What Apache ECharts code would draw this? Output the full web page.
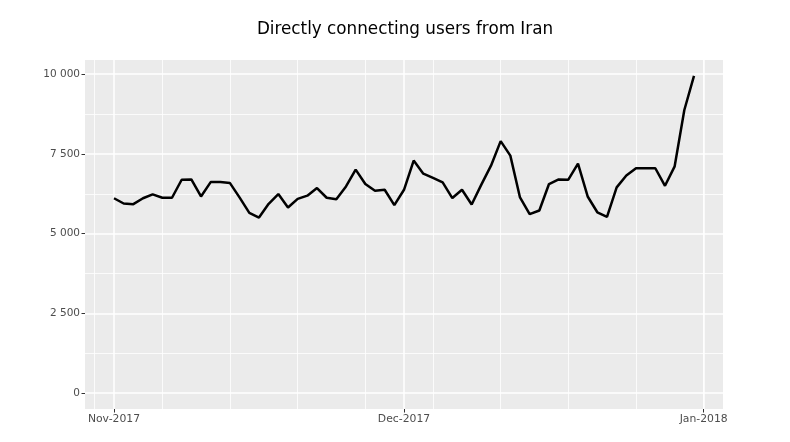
<!DOCTYPE html>
<html>
<head>
<meta charset="utf-8">
<script src="https://cdn.jsdelivr.net/npm/echarts@6/dist/echarts.min.js"></script>
<style>
  html, body { margin: 0; padding: 0; background: #fff; }
  #chart { width: 790px; height: 442px; }
</style>
</head>
<body>
<div id="chart"></div>
<script>
const TITLE = "Directly connecting users from Iran";
// x values are days counted from Nov 1 2017, one point per day
const START_DATE = [2017, 10, 1];
const USERS = [
  6110, 5945, 5925, 6110, 6230, 6125, 6125, 6690, 6700, 6165,
  6615, 6615, 6585, 6130, 5650, 5505, 5935, 6240, 5820, 6090,
  6190, 6430, 6125, 6080, 6480, 7005, 6555, 6345, 6375, 5895,
  6375, 7290, 6880, 6745, 6605, 6115, 6375, 5915, 6535, 7130,
  7900, 7445, 6135, 5610, 5725, 6555, 6700, 6690, 7195, 6165,
  5670, 5525, 6450, 6825, 7050, 7050, 7050, 6500, 7110, 8875,
  9945,
];
const MONTH_TICKS = [0, 30, 61];                          // Nov 1, Dec 1, Jan 1
const WEEK_LINES = [-2, 5, 12, 19, 26, 33, 40, 47, 54, 61]; // Mondays
const Y_TICKS = [0, 2500, 5000, 7500, 10000];
const Y_MINOR = [1250, 3750, 6250, 8750];
const MONTHS = ["Jan", "Feb", "Mar", "Apr", "May", "Jun", "Jul", "Aug", "Sep", "Oct", "Nov", "Dec"];

const COLORS = {
  panel: "#ebebeb",
  grid: "#ffffff",
  text: "#000000",
  label: "#4d4d4d",
  tick: "#333333",
  line: "#000000",
};

const seriesData = USERS.map((v, i) => [i, v]);

// ggplot-style 5% expansion around the data range
const xMin = -3;
const xMax = 63;
const yMin = -497;
const yMax = 10443;

function dayLabel(day) {
  const d = new Date(START_DATE[0], START_DATE[1], START_DATE[2] + day);
  return MONTHS[d.getMonth()] + "-" + d.getFullYear();
}

function thousands(v) {
  return String(v).replace(/\B(?=(\d{3})+(?!\d))/g, " ");
}

const chart = echarts.init(document.getElementById("chart"));
chart.setOption({
  animation: false,
  title: {
    text: TITLE,
    left: 400,
    textAlign: "center",
    top: 16,
    textStyle: { fontFamily: "DejaVu Sans", fontSize: 16.8, fontWeight: "normal", color: COLORS.text },
  },
  grid: {
    left: 85, right: 67, top: 60, bottom: 33,
    show: true, backgroundColor: COLORS.panel, borderWidth: 0,
  },
  xAxis: [
    {
      type: "value",
      min: xMin,
      max: xMax,
      axisLine: { show: false, onZero: false },
      axisTick: { show: true, length: 3.5, lineStyle: { color: COLORS.tick, width: 1 }, customValues: MONTH_TICKS },
      axisLabel: {
        customValues: MONTH_TICKS,
        margin: 5,
        color: COLORS.label,
        fontFamily: "DejaVu Sans",
        fontSize: 10.8,
        formatter: (v) => dayLabel(v),
      },
      splitLine: { show: true, lineStyle: { color: COLORS.grid, width: 1.5 } },
      z: 2,
    },
    {
      type: "value",
      min: xMin,
      max: xMax,
      axisLine: { show: false, onZero: false },
      axisTick: { show: false, customValues: WEEK_LINES },
      axisLabel: { show: false, customValues: WEEK_LINES },
      splitLine: { show: true, lineStyle: { color: COLORS.grid, width: 0.8 } },
      z: 1,
    },
  ],
  yAxis: [
    {
      type: "value",
      min: yMin,
      max: yMax,
      axisLine: { show: false, onZero: false },
      axisTick: { show: true, length: 3.5, lineStyle: { color: COLORS.tick, width: 1 }, customValues: Y_TICKS },
      axisLabel: {
        customValues: Y_TICKS,
        margin: 5,
        color: COLORS.label,
        fontFamily: "DejaVu Sans",
        fontSize: 10.5,
        formatter: (v) => thousands(v),
      },
      splitLine: { show: true, lineStyle: { color: COLORS.grid, width: 1.5 } },
      z: 2,
    },
    {
      type: "value",
      min: yMin,
      max: yMax,
      axisLine: { show: false, onZero: false },
      axisTick: { show: false, customValues: Y_MINOR },
      axisLabel: { show: false, customValues: Y_MINOR },
      splitLine: { show: true, lineStyle: { color: COLORS.grid, width: 0.8 } },
      z: 1,
    },
  ],
  series: [
    {
      type: "line",
      xAxisIndex: 0,
      yAxisIndex: 0,
      data: seriesData,
      showSymbol: false,
      symbol: "none",
      lineStyle: { color: COLORS.line, width: 2.5 },
      z: 5,
    },
  ],
});
</script>
</body>
</html>
